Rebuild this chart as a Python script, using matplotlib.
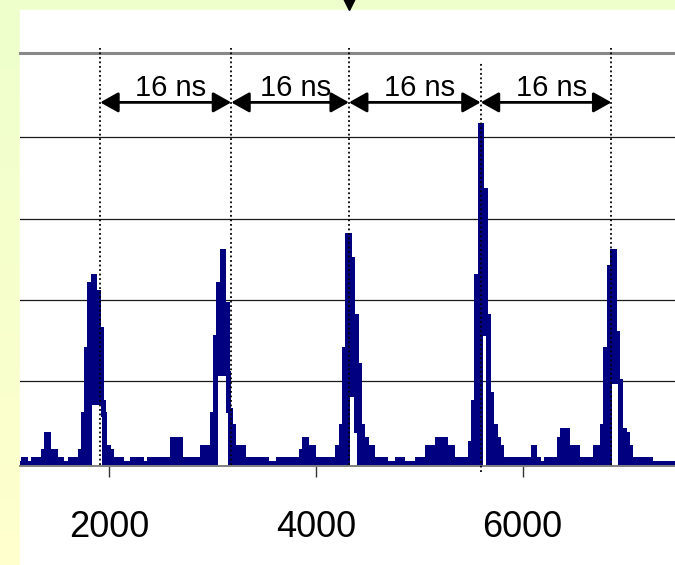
import numpy as np
import matplotlib
matplotlib.use("Agg")
import matplotlib.pyplot as plt
from matplotlib import font_manager
from matplotlib.colors import LinearSegmentedColormap
from matplotlib.patches import Rectangle

# histogram: 32-channel bins starting at channel 1136
bin_start = 1136
bin_width = 32
# upper envelope of the counts in each bin
counts_hi = [
    0, 1, 0, 0, 1, 1, 1, 3, 7, 3, 3, 1, 1, 0, 0, 1, 1, 1, 3, 12,
    28, 44, 46, 42, 33, 12, 4, 3, 1, 1, 1, 0, 0, 0, 1, 1, 1, 0, 0, 1,
    1, 0, 1, 0, 1, 1, 6, 6, 6, 1, 1, 1, 1, 1, 1, 4, 4, 1, 12, 31,
    44, 52, 39, 13, 9, 1, 4, 4, 1, 1, 1, 1, 0, 1, 1, 0, 0, 0, 1, 1,
    1, 1, 0, 1, 1, 3, 6, 4, 4, 1, 1, 1, 1, 1, 1, 1, 4, 9, 28, 56,
    50, 36, 24, 9, 6, 1, 4, 1, 1, 1, 1, 0, 0, 0, 1, 1, 0, 0, 0, 0,
    1, 0, 1, 4, 4, 4, 6, 6, 6, 4, 4, 1, 1, 1, 1, 1, 5, 15, 46, 83,
    67, 36, 17, 9, 6, 4, 1, 1, 1, 1, 0, 1, 1, 1, 0, 4, 1, 0, 0, 1,
    1, 1, 1, 6, 8, 8, 4, 4, 4, 1, 1, 0, 1, 1, 4, 4, 9, 28, 48, 52,
    32, 20, 8, 7, 4, 1, 1, 1, 0, 1, 1, 0, 0, 0, 0, 0, 0, 0,
]
# lower envelope inside the peak cores (elsewhere it drops to 0)
floor_bins = [21, 22, 23, 24, 59, 60, 61, 62, 99, 100, 101, 139, 140, 178, 179, 180]
floor_vals = [15, 15, 15, 15, 22, 22, 22, 22, 17, 17, 8, 32, 32, 20, 20, 20]

# 16 ns markers
mark_x = [1912, 3180, 4319, 5594, 6859]
mark_top = [101.8, 101.8, 101.8, 98.4, 101.8]
mark_bot = [-0.5, -0.5, -0.5, -2.2, -0.5]
gap_label = "16 ns"
xticks = [2000, 4000, 6000]

names = {f.name for f in font_manager.fontManager.ttflist}
narrow = "Liberation Sans Narrow" in names
fam = "Liberation Sans Narrow" if narrow else "Liberation Sans"
plt.rcParams["font.family"] = [fam, "DejaVu Sans"]
tick_size = 30 if narrow else 26
label_size = 24 if narrow else 21

hi = np.array(counts_hi, dtype=float)
lo = np.zeros_like(hi)
lo[floor_bins] = floor_vals
vals = np.column_stack((hi, lo)).ravel()
x_fine = bin_start + bin_width / 2 * (np.arange(len(vals)) + 0.5)

W, H = 675, 565
fig = plt.figure(figsize=(W / 100, H / 100), dpi=100)

# slide background
bg = fig.add_axes([0, 0, 1, 1], zorder=-1)
bg.axis("off")
cmap = LinearSegmentedColormap.from_list("bg", ["#EEFFCC", "#FFFFCC"])
bg.imshow(np.linspace(0, 1, 256).reshape(-1, 1), aspect="auto", cmap=cmap,
          extent=[0, 1, 0, 1], origin="upper")
bg.add_patch(Rectangle((20 / W, 0), 655 / W, 555 / H, color="white"))
bg.set_xlim(0, 1)
bg.set_ylim(0, 1)

ax = fig.add_axes([20 / W, (H - 466) / H, 655 / W, 413.5 / H])
ax.set_facecolor("none")
ax.plot(x_fine, vals, drawstyle="steps-mid", color="#000080", lw=3.6,
        solid_joinstyle="miter", zorder=2)

ax.set_xlim(1136, 7474)
ax.set_ylim(-0.74, 100.74)
ax.set_yticks([20, 40, 60, 80])
ax.yaxis.grid(True, color="#1a1a1a", lw=0.9)
ax.tick_params(axis="y", length=0, labelleft=False)
ax.set_xticks(xticks)
ax.set_xticklabels([str(t) for t in xticks], fontsize=tick_size)
ax.tick_params(axis="x", length=8, width=1, color="#333333", pad=24)
for s in ["left", "right"]:
    ax.spines[s].set_visible(False)
ax.spines["top"].set_color("#888888")
ax.spines["top"].set_linewidth(2.2)
ax.spines["bottom"].set_color("#808080")
ax.spines["bottom"].set_linewidth(1.4)

for x, t, b in zip(mark_x, mark_top, mark_bot):
    ax.plot([x, x], [b, t], color="black", lw=1.3, ls=(0, (1, 1.5)),
            clip_on=False, zorder=3)

for a, b in zip(mark_x[:-1], mark_x[1:]):
    ax.annotate("", xy=(b, 88.5), xytext=(a, 88.5),
                arrowprops=dict(arrowstyle="<|-|>,head_length=0.5,head_width=0.28",
                                color="black", lw=2, shrinkA=0, shrinkB=0,
                                mutation_scale=22),
                annotation_clip=False, zorder=4)
    ax.text((a + b) / 2 + 50, 90, gap_label, ha="center", va="baseline",
            fontsize=label_size, zorder=4)

ax.plot(mark_x[2], 112.6, marker="v", ms=8, color="black", clip_on=False, zorder=5)

fig.savefig("out.png", dpi=100)
